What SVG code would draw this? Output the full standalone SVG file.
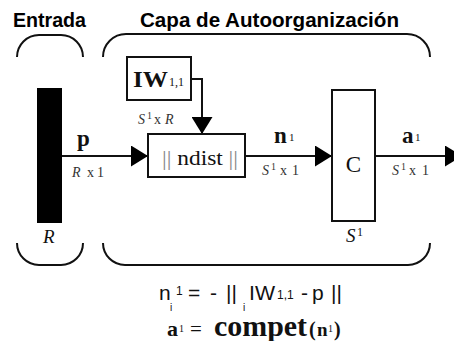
<svg xmlns="http://www.w3.org/2000/svg" width="454" height="341" viewBox="0 0 454 341">
  <style>
    .frame { fill: none; stroke: #111; stroke-width: 2; }
    .box { fill: #fff; stroke: #111; stroke-width: 2; }
    .wire { fill: none; stroke: #111; stroke-width: 2; }
    .head { font-family: "Liberation Sans", Arial, sans-serif; font-weight: bold; font-size: 19.5px; fill: #000; }
    .serif { font-family: "Liberation Serif", "Times New Roman", serif; fill: #111; }
    .bold { font-weight: bold; }
    .ital { font-style: italic; }
    .dim { font-family: "Liberation Serif", "Times New Roman", serif; font-size: 14px; fill: #333; }
    .sans { font-family: "Liberation Sans", Arial, sans-serif; fill: #111; }
  </style>
  <defs>
    <marker id="arrow" viewBox="0 0 17 21" refX="17" refY="10.5" markerWidth="17" markerHeight="21" markerUnits="userSpaceOnUse" orient="auto">
      <path d="M0,0 L17,10.5 L0,21 Z" fill="#000"/>
    </marker>
  </defs>

  <!-- section titles -->
  <text class="head" x="13" y="27" textLength="73" lengthAdjust="spacingAndGlyphs">Entrada</text>
  <text class="head" x="140" y="27" textLength="259" lengthAdjust="spacingAndGlyphs">Capa de Autoorganización</text>

  <!-- grouping braces -->
  <g id="braces">
    <path class="frame" d="M17,57 A22,22 0 0 1 39,35 L61,35 A22,22 0 0 1 83,57"/>
    <path class="frame" d="M17,243 A22,22 0 0 0 39,265 L61,265 A22,22 0 0 0 83,243"/>
    <path class="frame" d="M103,57 A23,23 0 0 1 126,34 L407,34 A23,23 0 0 1 430,57"/>
    <path class="frame" d="M103,243 A22,22 0 0 0 125,265 L408,265 A22,22 0 0 0 430,243"/>
  </g>

  <!-- connectors -->
  <g id="connectors">
    <line class="wire" x1="62" y1="156" x2="148" y2="156" marker-end="url(#arrow)"/>
    <polyline class="wire" points="191,79 202,79 202,134" marker-end="url(#arrow)"/>
    <line class="wire" x1="246" y1="156" x2="332" y2="156" marker-end="url(#arrow)"/>
    <line class="wire" x1="375" y1="156" x2="462" y2="156" marker-end="url(#arrow)"/>
  </g>

  <!-- input vector -->
  <g id="input">
    <rect x="37" y="88" width="25" height="135" fill="#000"/>
    <text class="serif ital" x="43" y="243" font-size="19">R</text>
  </g>

  <!-- input weight matrix -->
  <g id="iw">
    <rect class="box" x="127" y="57" width="64" height="43"/>
    <text class="serif bold" x="133" y="87" font-size="24" textLength="35" lengthAdjust="spacingAndGlyphs">IW</text>
    <text class="serif" x="169" y="86" font-size="12">1,1</text>
  </g>

  <!-- negative distance function -->
  <g id="ndist">
    <rect class="box" x="148" y="134" width="97" height="43"/>
    <text class="serif" x="162" y="165" font-size="22" textLength="76" lengthAdjust="spacingAndGlyphs"><tspan fill="#888">||</tspan> ndist <tspan fill="#888">||</tspan></text>
  </g>

  <!-- competitive transfer function -->
  <g id="compet">
    <rect class="box" x="332" y="90" width="43" height="131"/>
    <text class="serif" x="353.5" y="172" font-size="23" text-anchor="middle">C</text>
    <text class="serif ital" x="346" y="242" font-size="19">S</text>
    <text class="serif" x="357" y="236" font-size="12">1</text>
  </g>

  <!-- signal labels -->
  <g id="labels">
    <text class="serif bold" x="77" y="146" font-size="23">p</text>
    <text class="dim" y="177"><tspan class="ital" x="72">R</tspan><tspan x="87">x</tspan><tspan x="97">1</tspan></text>

    <text class="dim" y="124"><tspan class="ital" x="138">S</tspan><tspan x="147" y="119" font-size="10">1</tspan><tspan x="154" y="124">x</tspan><tspan class="ital" x="165">R</tspan></text>

    <text class="serif bold" x="274" y="143" font-size="23">n</text>
    <text class="serif" x="289" y="141" font-size="11">1</text>
    <text class="dim" y="175"><tspan class="ital" x="262">S</tspan><tspan x="271" y="170" font-size="10">1</tspan><tspan x="280" y="175">x</tspan><tspan x="292">1</tspan></text>

    <text class="serif bold" x="402" y="143" font-size="23">a</text>
    <text class="serif" x="415" y="141" font-size="11">1</text>
    <text class="dim" y="175"><tspan class="ital" x="392">S</tspan><tspan x="401" y="170" font-size="10">1</tspan><tspan x="409" y="175">x</tspan><tspan x="422">1</tspan></text>
  </g>

  <!-- layer equations -->
  <g id="equations">
    <text class="sans" font-size="21" y="300">
      <tspan x="159">n</tspan><tspan x="188">=</tspan><tspan x="210">-</tspan><tspan x="226">||</tspan><tspan x="249" textLength="26" lengthAdjust="spacingAndGlyphs">IW</tspan><tspan x="301">-</tspan><tspan x="312">p</tspan><tspan x="331">||</tspan>
    </text>
    <text class="sans" font-size="10" y="311"><tspan x="170">i</tspan><tspan x="243">i</tspan></text>
    <text class="sans" font-size="12" y="295" x="176">1</text>
    <text class="sans" font-size="12" y="299" x="277">1,1</text>

    <text class="serif" y="336">
      <tspan class="bold" x="167" font-size="22">a</tspan><tspan x="190" font-size="21">=</tspan><tspan class="bold" x="214" font-size="30" textLength="93" lengthAdjust="spacingAndGlyphs">compet</tspan><tspan class="bold" x="309" font-size="20">(</tspan><tspan class="bold" x="317" font-size="19">n</tspan><tspan class="bold" x="334" font-size="20">)</tspan>
    </text>
    <text class="serif" font-size="10" y="332"><tspan x="179">1</tspan><tspan x="328">1</tspan></text>
  </g>
</svg>
